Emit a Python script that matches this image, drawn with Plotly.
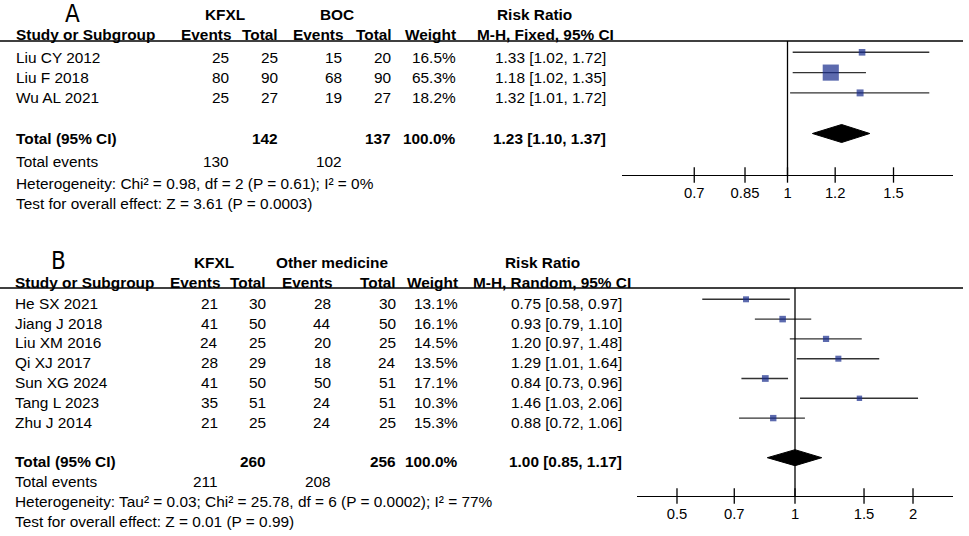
import math

import plotly.graph_objects as go

W, H = 969, 536

# ---- panel A: KFXL vs BOC ----
a_studies = ["Liu CY 2012", "Liu F 2018", "Wu AL 2021"]
a_kfxl_events = [25, 80, 25]
a_kfxl_total = [25, 90, 27]
a_ctrl_events = [15, 68, 19]
a_ctrl_total = [20, 90, 27]
a_weight = [16.5, 65.3, 18.2]
a_rr = [1.33, 1.18, 1.32]
a_lo = [1.02, 1.02, 1.01]
a_hi = [1.72, 1.35, 1.72]
a_sum_total = [142, 137]
a_sum_events = [130, 102]
a_sum_weight = "100.0%"
a_pooled = [1.23, 1.10, 1.37]
a_het = "Heterogeneity: Chi² = 0.98, df = 2 (P = 0.61); I² = 0%"
a_test = "Test for overall effect: Z = 3.61 (P = 0.0003)"
a_ticks = [0.7, 0.85, 1, 1.2, 1.5]

# ---- panel B: KFXL vs other medicine ----
b_studies = ["He SX 2021", "Jiang J 2018", "Liu XM 2016", "Qi XJ 2017",
             "Sun XG 2024", "Tang L 2023", "Zhu J 2014"]
b_kfxl_events = [21, 41, 24, 28, 41, 35, 21]
b_kfxl_total = [30, 50, 25, 29, 50, 51, 25]
b_ctrl_events = [28, 44, 20, 18, 50, 24, 24]
b_ctrl_total = [30, 50, 25, 24, 51, 51, 25]
b_weight = [13.1, 16.1, 14.5, 13.5, 17.1, 10.3, 15.3]
b_rr = [0.75, 0.93, 1.20, 1.29, 0.84, 1.46, 0.88]
b_lo = [0.58, 0.79, 0.97, 1.01, 0.73, 1.03, 0.72]
b_hi = [0.97, 1.10, 1.48, 1.64, 0.96, 2.06, 1.06]
b_sum_total = [260, 256]
b_sum_events = [211, 208]
b_sum_weight = "100.0%"
b_pooled = [1.00, 0.85, 1.17]
b_het = "Heterogeneity: Tau² = 0.03; Chi² = 25.78, df = 6 (P = 0.0002); I² = 77%"
b_test = "Test for overall effect: Z = 0.01 (P = 0.99)"
b_ticks = [0.5, 0.7, 1, 1.5, 2]

BLUE = "#172b8c"
FONT = "Liberation Sans, Arial, sans-serif"
LABEL_FONT = "Liberation Sans Narrow, DejaVu Sans Condensed, sans-serif"
FS = 15.4


def px_x(x):
    return x / W


def px_y(y):
    return 1 - y / H


panels = [
    dict(
        letter="A", letter_pos=(72, 13.5), xa="x", ya="y",
        studies=a_studies, ke=a_kfxl_events, kt=a_kfxl_total,
        ce=a_ctrl_events, ct=a_ctrl_total, weight=a_weight,
        rr=a_rr, lo=a_lo, hi=a_hi, sum_total=a_sum_total,
        sum_events=a_sum_events, sum_weight=a_sum_weight, pooled=a_pooled,
        het=a_het, test=a_test, ticks=a_ticks,
        ctrl="BOC", method="M-H, Fixed, 95% CI",
        x_dom=(622, 953), lnspan=0.633, top=41, bottom=175,
        row0=52.3, rowh=20.3, diamond_h=9, text_dy=-5,
        head=(14, 34), group_x=(225, 337, 534), study_x=15,
        cols=(230, 279, 343, 392, 457, 607),
        head_cols=(232, 279, 344, 393, 457), method_right=615,
        foot=(161, 183, 203), axis_label_y=210, ctrl_shift=(-9, 8),
    ),
    dict(
        letter="B", letter_pos=(58, 260.5), xa="x2", ya="y2",
        studies=b_studies, ke=b_kfxl_events, kt=b_kfxl_total,
        ce=b_ctrl_events, ct=b_ctrl_total, weight=b_weight,
        rr=b_rr, lo=b_lo, hi=b_hi, sum_total=b_sum_total,
        sum_events=b_sum_events, sum_weight=b_sum_weight, pooled=b_pooled,
        het=b_het, test=b_test, ticks=b_ticks,
        ctrl="Other medicine", method="M-H, Random, 95% CI",
        x_dom=(637, 953), lnspan=0.928, top=288, bottom=496,
        row0=299.3, rowh=19.8, diamond_h=8, text_dy=-4,
        head=(262.5, 282.3), group_x=(214, 332, 542), study_x=14,
        cols=(219, 267, 332, 397, 459, 623),
        head_cols=(221, 267, 333, 397, 459), method_right=632,
        foot=(481, 501.7, 521), axis_label_y=527, ctrl_shift=(-17, -2),
    ),
]

fig = go.Figure()
annotations = []
shapes = []


def note(text, x, y, xanchor="left", bold=False, xref="paper", yref="paper",
         size=FS, family=FONT, xshift=0, yshift=0):
    if bold:
        text = f"<b>{text}</b>"
    annotations.append(dict(
        text=text, x=x, y=y, xref=xref, yref=yref, xanchor=xanchor,
        yanchor="middle", showarrow=False, xshift=xshift, yshift=yshift,
        borderpad=0, font=dict(family=family, size=size, color="black"),
    ))


for p in panels:
    xa, ya = p["xa"], p["ya"]
    n = len(p["studies"])
    rows = list(range(n))
    total_row = n + 1
    y_lo = (p["top"] - p["row0"]) / p["rowh"]
    y_hi = (p["bottom"] - p["row0"]) / p["rowh"]
    dh = p["diamond_h"] / p["rowh"]
    dy = p["text_dy"]
    suffix = xa[1:]

    # confidence interval lines
    xs, ys = [], []
    for i, (lo, hi) in enumerate(zip(p["lo"], p["hi"])):
        xs += [lo, hi, None]
        ys += [i, i, None]
    fig.add_trace(go.Scatter(
        x=xs, y=ys, mode="lines", line=dict(color="#333333", width=1.4),
        xaxis=xa, yaxis=ya, hoverinfo="skip",
    ))
    # study squares, sized by weight
    fig.add_trace(go.Scatter(
        x=p["rr"], y=rows, mode="markers", xaxis=xa, yaxis=ya,
        marker=dict(symbol="square", color=BLUE,
                    size=[3.4 + 0.195 * w for w in p["weight"]],
                    line=dict(width=0)),
    ))
    # pooled diamond
    est, lo, hi = p["pooled"]
    fig.add_trace(go.Scatter(
        x=[lo, est, hi, est, lo],
        y=[total_row, total_row - dh, total_row, total_row + dh, total_row],
        mode="lines", fill="toself", fillcolor="black",
        line=dict(color="black", width=1), xaxis=xa, yaxis=ya,
    ))
    # tick marks crossing the axis line
    fig.add_trace(go.Scatter(
        x=p["ticks"], y=[y_hi] * len(p["ticks"]), mode="markers",
        marker=dict(symbol="line-ns", size=11,
                    line=dict(color="black", width=1.3)),
        cliponaxis=False, xaxis=xa, yaxis=ya, hoverinfo="skip",
    ))

    span = p["lnspan"] / math.log(10)
    fig.layout[f"xaxis{suffix}"] = dict(
        type="log", range=[-span, span],
        domain=[px_x(p["x_dom"][0]), px_x(p["x_dom"][1])],
        anchor=ya, showgrid=False, zeroline=False,
        showline=True, linecolor="black", linewidth=1.3,
        tickvals=p["ticks"], ticktext=[f"{t:g}" for t in p["ticks"]],
        ticks="outside", ticklen=4, tickcolor="rgba(0,0,0,0)",
        tickfont=dict(family=FONT, size=14.8, color="black"),
        fixedrange=True,
    )
    fig.layout[f"yaxis{suffix}"] = dict(
        range=[y_hi, y_lo],
        domain=[px_y(p["bottom"]), px_y(p["top"])],
        anchor=xa, visible=False, fixedrange=True,
    )

    # vertical line of no effect
    shapes.append(dict(
        type="line", xref=xa, yref=f"{ya} domain", x0=1, x1=1, y0=0, y1=1,
        line=dict(color="black", width=1.3),
    ))
    # header rule across the whole panel
    shapes.append(dict(
        type="line", xref="paper", yref="paper",
        x0=0, x1=px_x(963), y0=px_y(p["top"]), y1=px_y(p["top"]),
        line=dict(color="black", width=1.3),
    ))

    # panel letter
    lx, ly = p["letter_pos"]
    note(p["letter"], px_x(lx), px_y(ly), xanchor="center", size=24,
         family=LABEL_FONT)

    h1, h2 = p["head"]
    gx = p["group_x"]
    note("KFXL", px_x(gx[0]), px_y(h1), "center", True)
    note(p["ctrl"], px_x(gx[1]), px_y(h1), "center", True)
    note("Risk Ratio", px_x(gx[2]), px_y(h1), "center", True)
    note("Risk Ratio", 1, px_y(h1), "center", True, xref=xa)
    note(p["method"], 1, px_y(h2), "center", True, xref=xa, xshift=3)

    cols = p["cols"]
    note("Study or Subgroup", px_x(p["study_x"]), px_y(h2), "left", True)
    for label, cx in zip(["Events", "Total", "Events", "Total", "Weight"],
                         p["head_cols"]):
        note(label, px_x(cx), px_y(h2), "right", True)
    note(p["method"], px_x(p["method_right"]), px_y(h2), "right", True)

    # study rows
    for i in rows:
        cells = [p["ke"][i], p["kt"][i], p["ce"][i], p["ct"][i],
                 f"{p['weight'][i]:.1f}%",
                 f"{p['rr'][i]:.2f} [{p['lo'][i]:.2f}, {p['hi'][i]:.2f}]"]
        note(p["studies"][i], px_x(p["study_x"]), i, "left", yref=ya,
             yshift=dy)
        for val, cx in zip(cells, cols):
            note(str(val), px_x(cx), i, "right", yref=ya, yshift=dy)

    # total row
    note("Total (95% CI)", px_x(p["study_x"]), total_row, "left", True,
         yref=ya, yshift=dy)
    note(str(p["sum_total"][0]), px_x(cols[1]), total_row, "right", True,
         yref=ya, yshift=dy)
    note(str(p["sum_total"][1]), px_x(cols[3]), total_row, "right", True,
         yref=ya, yshift=dy)
    note(p["sum_weight"], px_x(cols[4]), total_row, "right", True,
         yref=ya, yshift=dy)
    note(f"{est:.2f} [{lo:.2f}, {hi:.2f}]", px_x(cols[5]), total_row, "right",
         True, yref=ya, yshift=dy)

    f1, f2, f3 = p["foot"]
    note("Total events", px_x(p["study_x"]), px_y(f1))
    note(str(p["sum_events"][0]), px_x(cols[0]), px_y(f1), "right")
    note(str(p["sum_events"][1]), px_x(cols[2]), px_y(f1), "right")
    note(p["het"], px_x(p["study_x"]), px_y(f2))
    note(p["test"], px_x(p["study_x"]), px_y(f3))

    # favours labels under the axis
    sl, sr = p["ctrl_shift"]
    note(p["ctrl"], 1, px_y(p["axis_label_y"]), "right", xref=xa, xshift=sl,
         size=14.5)
    note("KFXL", 1, px_y(p["axis_label_y"]), "left", xref=xa, xshift=sr,
         size=14.5)

fig.update_layout(
    width=W, height=H,
    margin=dict(l=0, r=0, t=0, b=0),
    paper_bgcolor="white", plot_bgcolor="rgba(0,0,0,0)",
    showlegend=False,
    annotations=annotations,
    shapes=shapes,
    font=dict(family=FONT, size=FS, color="black"),
)

# the page body has a default 8px margin; drop it so the figure fills the window
fig.write_html(
    "out.html",
    config={"displayModeBar": False},
    post_script="document.body.style.margin='0px';",
)
